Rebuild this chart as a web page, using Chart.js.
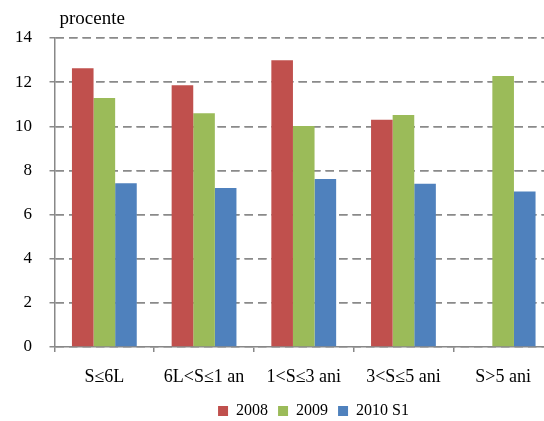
<!DOCTYPE html>
<html>
<head>
<meta charset="utf-8">
<script src="https://cdn.jsdelivr.net/npm/chart.js@4/dist/chart.umd.min.js"></script>
<style>
html,body{margin:0;padding:0;background:#fff;overflow:hidden;}
#outer{width:544px;height:421px;overflow:hidden;position:relative;}
canvas{display:block;}
#ov{position:absolute;left:0;top:0;width:544px;height:421px;pointer-events:none;background:rgba(255,255,255,0.001);}
.warm{position:absolute;left:-2000px;top:0;font-family:"Liberation Serif";}
</style>
</head>
<body>
<div class="warm" style="font-size:16px">2008 2009 2010 S1</div>
<div class="warm" style="font-size:17px">0 2 4 6 8 10 12 14</div>
<div class="warm" style="font-size:18px">S≤6L 6L&lt;S≤1 an</div>
<div class="warm" style="font-size:19px">procente</div>
<div id="outer"><canvas id="c" width="553" height="421"></canvas><div id="ov"></div></div>
<script>
const categories = ['S\u22646L', '6L<S\u22641 an', '1<S\u22643 ani', '3<S\u22645 ani', 'S>5 ani'];
const seriesNames = ['2008', '2009', '2010 S1'];
const values2008 = [12.63, 11.86, 12.99, 10.30, null];
const values2009 = [11.28, 10.59, 10.01, 10.51, 12.28];
const values2010S1 = [7.42, 7.20, 7.61, 7.40, 7.05];
const yTickValues = [0, 2, 4, 6, 8, 10, 12, 14];
const yUnitLabel = 'procente';

const FONT = '"Liberation Serif", "Times New Roman", serif';
Chart.defaults.font.family = FONT;
Chart.defaults.color = '#000';

const GRID_COLOR = '#8a8a8a';
const GRID_WIDTH = 1.5;
const GRID_DASH = [8.5, 5];

function alignPx(v, w) { return Math.round(v - w / 2) + w / 2; }

// dashed value grid from the y scale's own ticks (coincides with the scale grid)
const dashGridPlugin = {
  id: 'dashGrid',
  beforeDatasetsDraw(chart) {
    const ys = chart.scales.y;
    const area = chart.chartArea;
    const ctx = chart.ctx;
    ctx.save();
    ctx.strokeStyle = GRID_COLOR;
    ctx.lineWidth = GRID_WIDTH;
    ctx.setLineDash(GRID_DASH);
    ctx.lineDashOffset = 0;
    const x1 = alignPx(area.left, 1.5) + 0.75;
    ys.ticks.forEach((t) => {
      if (t.value === ys.min) return;
      const y = alignPx(ys.getPixelForValue(t.value), GRID_WIDTH);
      ctx.beginPath();
      ctx.moveTo(x1, y);
      ctx.lineTo(area.right, y);
      ctx.stroke();
    });
    ctx.restore();
  }
};

const unitLabelPlugin = {
  id: 'unitLabel',
  afterDraw(chart) {
    const ctx = chart.ctx;
    ctx.save();
    ctx.font = '19px ' + FONT;
    ctx.fillStyle = '#000';
    ctx.textAlign = 'left';
    ctx.textBaseline = 'alphabetic';
    ctx.fillText(yUnitLabel, chart.chartArea.left + 5, 24);
    ctx.restore();
  }
};

const legendShiftPlugin = {
  id: 'legendShift',
  afterLayout(chart) {
    const lg = chart.legend;
    if (!lg) return;
    lg.left += 37; lg.right += 37;
    lg.top += 8; lg.bottom += 8;
  }
};

let chart = null;
function build() {
  if (chart) return;
  chart = new Chart(document.getElementById('c'), {
    type: 'bar',
    data: {
      labels: categories,
      datasets: [
        { label: seriesNames[0], data: values2008, backgroundColor: '#C0504D', categoryPercentage: 0.65, barPercentage: 1.0 },
        { label: seriesNames[1], data: values2009, backgroundColor: '#9BBB59', categoryPercentage: 0.65, barPercentage: 1.0 },
        { label: seriesNames[2], data: values2010S1, backgroundColor: '#4F81BD', categoryPercentage: 0.65, barPercentage: 1.0 }
      ]
    },
    options: {
      responsive: false,
      animation: false,
      devicePixelRatio: 1,
      layout: { padding: { top: 38 } },
      plugins: {
        tooltip: { enabled: false },
        legend: {
          position: 'bottom',
          labels: { boxWidth: 10, boxHeight: 10, padding: 10, color: '#000', font: { family: FONT, size: 16 } }
        }
      },
      scales: {
        x: {
          afterFit(s) { s.height = 38; },
          grid: { offset: true, drawOnChartArea: false, tickLength: 5, color: '#888888', lineWidth: 1.5 },
          border: { color: '#888888', width: 1.5 },
          ticks: { color: '#000', padding: 14, maxRotation: 0, autoSkip: false, font: { family: FONT, size: 18 } }
        },
        y: {
          min: 0, max: 14,
          afterFit(s) { s.width = 54.5; },
          afterBuildTicks(s) { s.ticks = yTickValues.map(v => ({ value: v })); },
          grid: { color: GRID_COLOR, lineWidth: GRID_WIDTH, tickLength: 5 },
          border: { color: '#888888', width: 1.5, dash: GRID_DASH },
          ticks: { color: '#000', padding: 17.5, font: { family: FONT, size: 17 } }
        }
      }
    },
    plugins: [dashGridPlugin, unitLabelPlugin, legendShiftPlugin]
  });
  setTimeout(() => { chart.update('none'); }, 150);
}

const loads = document.fonts && document.fonts.load ? Promise.all([
  document.fonts.load('16px "Liberation Serif"'),
  document.fonts.load('17px "Liberation Serif"'),
  document.fonts.load('18px "Liberation Serif"'),
  document.fonts.load('19px "Liberation Serif"')
]) : Promise.resolve();
loads.then(() => (document.fonts ? document.fonts.ready : null)).then(build, build);
setTimeout(build, 300);
</script>
</body>
</html>
